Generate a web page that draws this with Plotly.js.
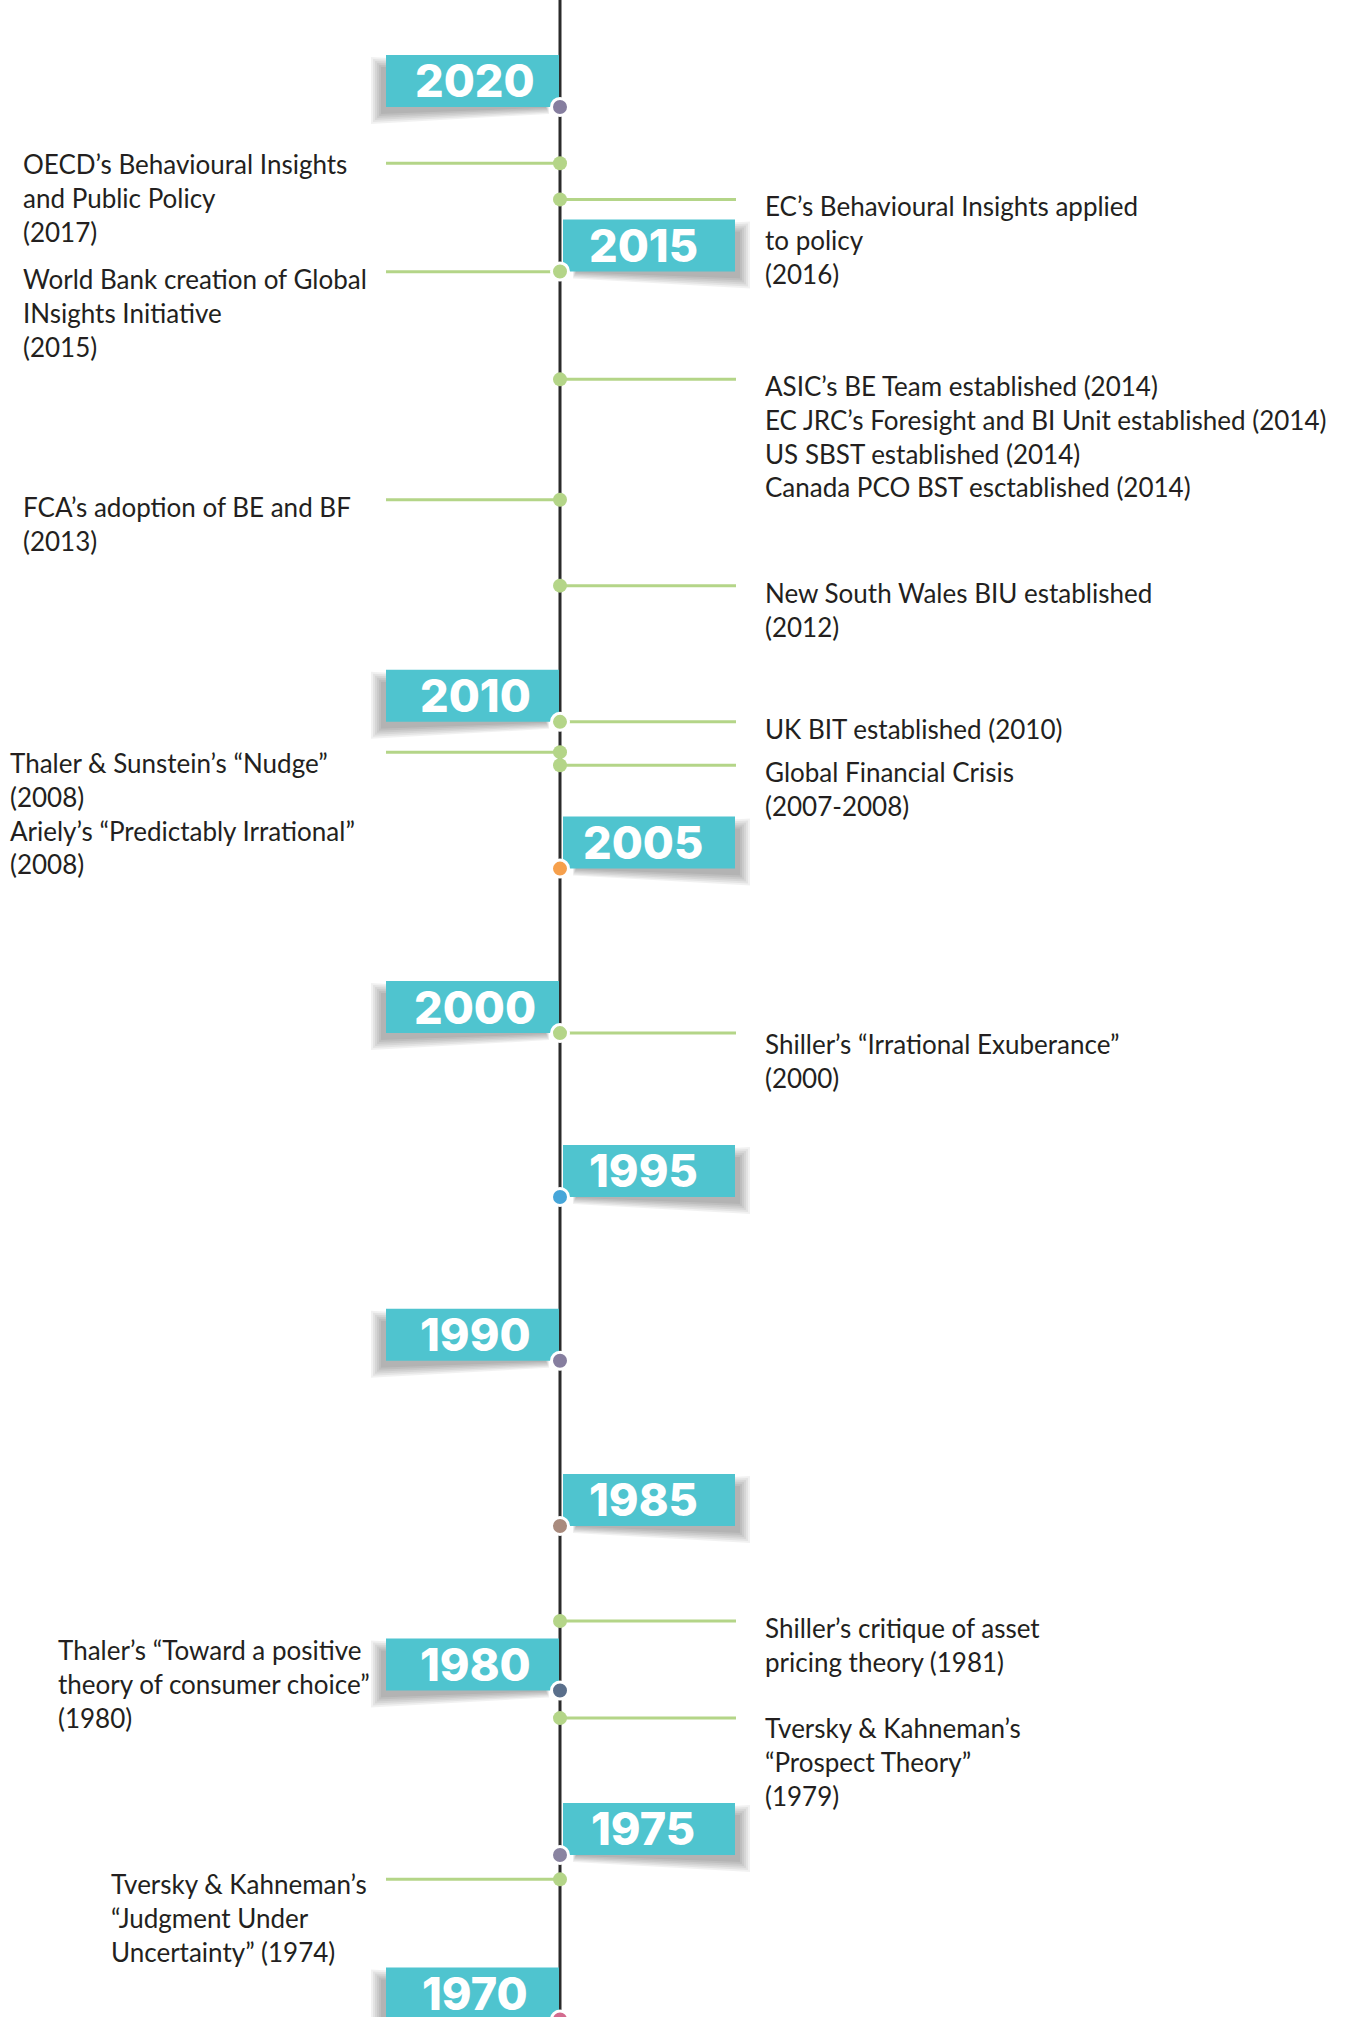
<!DOCTYPE html>
<html><head><meta charset="utf-8">
<script src="https://cdn.plot.ly/plotly-3.0.1.min.js"></script>
<style>html,body{margin:0;padding:0;background:#fff;} #chart{width:1351px;height:2017px;}</style>
</head><body><div id="chart"></div>
<script>
// ---------------- DATA ----------------
// Year markers on the timeline and their place on the drawn timeline scale
// (timeline units: one 5-year step = 5 units from 1970 up to 2005; the top of the
// original timeline is stretched, so 2010/2015/2020 sit where the picture puts them)
const markerYears = ['2020', '2015', '2010', '2005', '2000', '1995', '1990', '1985', '1980', '1975', '1970'];
const markerPos   = [58.13, 53.13, 39.44, 34.98, 29.98, 25.00, 20.02, 15.00, 10.00, 5.00, 0.00];
const markerSide  = ['left', 'right', 'left', 'right', 'left', 'right', 'left', 'right', 'left', 'right', 'left'];

// Events
const eventText = [
  'OECD’s Behavioural Insights<br>and Public Policy<br>(2017)',
  'EC’s Behavioural Insights applied<br>to policy<br>(2016)',
  'World Bank creation of Global<br>INsights Initiative<br>(2015)',
  'ASIC’s BE Team established (2014)<br>EC JRC’s Foresight and BI Unit established (2014)<br>US SBST established (2014)<br>Canada PCO BST esctablished (2014)',
  'FCA’s adoption of BE and BF<br>(2013)',
  'New South Wales BIU established<br>(2012)',
  'UK BIT established (2010)',
  'Thaler &amp; Sunstein’s “Nudge”<br>(2008)<br>Ariely’s “Predictably Irrational”<br>(2008)',
  'Global Financial Crisis<br>(2007-2008)',
  'Shiller’s “Irrational Exuberance”<br>(2000)',
  'Shiller’s critique of asset<br>pricing theory (1981)',
  'Thaler’s “Toward a positive<br>theory of consumer choice”<br>(1980)',
  'Tversky &amp; Kahneman’s<br>“Prospect Theory”<br>(1979)',
  'Tversky &amp; Kahneman’s<br>“Judgment Under<br>Uncertainty” (1974)'
];
const eventPos    = [56.42, 55.32, 53.12, 49.85, 46.19, 43.58, 39.44, 38.52, 38.12, 29.98, 12.11, 11.43, 9.16, 4.26];
const eventSide   = ['left', 'right', 'left', 'right', 'left', 'right', 'right', 'left', 'right', 'right', 'right', 'left', 'right', 'left'];
const eventLinked = [true, true, true, true, true, true, true, true, true, true, true, false, true, true];

// ---------------- STYLE / LAYOUT ----------------
const W = 1351, H = 2017;
const Y_RANGE = [0.076, 61.38];
const PX_PER_UNIT = H / (Y_RANGE[1] - Y_RANGE[0]);
const AXIS_X = 560;
const TEAL = '#4fc4cf';
const GREEN = '#b4d588';
const TEXT = '#231f20';
const MARKER_DOT_COLORS = ['#867e9f', GREEN, GREEN, '#f6a04c', GREEN, '#46a6d9', '#867e9f', '#a98b7e', '#5a6f8b', '#8a84a1', '#d36b8e'];
const LEFT_BOX = [386, 559], RIGHT_BOX = [563, 735];
const BOX_H = 52;
const LEFT_LINE = [386, AXIS_X], RIGHT_LINE = [AXIS_X, 736];
const LEFT_LABEL_X = [21, 21, 21, 8, 56, 109];   // left edges of the left-hand text blocks, in order
const RIGHT_LABEL_X = 763;
// fine vertical nudges of individual text blocks (px, up = positive)
const LABEL_YSHIFT = [17, 11, 11, 11, 11, 11, 11, 7, 11, 7, 11, 11, 8.5, 13.5];

const shapes = [];
const annotations = [];

function polyPath(pts) {
  return 'M ' + pts.map(p => p[0] + ',' + p[1]).join(' L ') + ' Z';
}

// shadows (soft, layered)
markerPos.forEach((p, i) => {
  const left = markerSide[i] === 'left';
  for (let d = 0; d <= 10; d += 2) {
    const pts = left
      ? [[381 - d, 40 + d], [381 - d, -7 - d], [546 + d * 0.3, -1 - d * 0.6], [546 + d * 0.3, 40]]
      : [[576 - d * 0.3, -1 - d * 0.6], [740 + d, -7 - d], [740 + d, 40 + d], [576 - d * 0.3, 40]];
    shapes.push({
      type: 'path', xref: 'x', yref: 'y', ysizemode: 'pixel', yanchor: p,
      path: polyPath(pts), fillcolor: 'rgba(0,0,0,0.055)', line: {width: 0}, layer: 'below'
    });
  }
});

// year boxes
markerPos.forEach((p, i) => {
  const b = markerSide[i] === 'left' ? LEFT_BOX : RIGHT_BOX;
  shapes.push({
    type: 'rect', xref: 'x', yref: 'y', ysizemode: 'pixel', yanchor: p,
    x0: b[0], x1: b[1], y0: 0, y1: BOX_H,
    fillcolor: TEAL, line: {width: 0}, layer: 'below'
  });
  annotations.push({
    x: markerSide[i] === 'left' ? 475 : 643, y: p + (BOX_H / 2) / PX_PER_UNIT, xref: 'x', yref: 'y',
    xanchor: 'center', yanchor: 'middle', showarrow: false,
    text: markerYears[i],
    font: {family: 'Inter, Lato, sans-serif', size: 45, color: '#ffffff', weight: 800}
  });
});

// connectors
eventPos.forEach((p, i) => {
  if (!eventLinked[i]) return;
  const l = eventSide[i] === 'left' ? LEFT_LINE : RIGHT_LINE;
  shapes.push({
    type: 'line', xref: 'x', yref: 'y', x0: l[0], x1: l[1], y0: p, y1: p,
    line: {color: GREEN, width: 3}, layer: 'below'
  });
});

// timeline
shapes.push({
  type: 'line', xref: 'x', yref: 'paper', x0: AXIS_X, x1: AXIS_X, y0: 0, y1: 1,
  line: {color: '#2b2b2b', width: 3}, layer: 'below'
});

// event labels
let li = 0;
eventPos.forEach((p, i) => {
  const left = eventSide[i] === 'left';
  annotations.push({
    x: left ? LEFT_LABEL_X[li++] : RIGHT_LABEL_X, y: p, xref: 'x', yref: 'y',
    xanchor: 'left', yanchor: 'top', yshift: LABEL_YSHIFT[i], align: 'left', showarrow: false,
    text: eventText[i],
    font: {family: 'Lato, "Open Sans", sans-serif', size: 26, color: TEXT}
  });
});

const linkedPos = eventPos.filter((p, i) => eventLinked[i]);
const traces = [
  {
    type: 'scatter', mode: 'markers', hoverinfo: 'skip',
    x: linkedPos.map(() => AXIS_X), y: linkedPos,
    marker: {size: 14, color: GREEN, line: {width: 0}}
  },
  {
    type: 'scatter', mode: 'markers', hoverinfo: 'skip',
    x: markerPos.map(() => AXIS_X), y: markerPos,
    marker: {size: 17, color: MARKER_DOT_COLORS, line: {width: 3, color: '#ffffff'}}
  }
];

const layout = {
  width: W, height: H,
  margin: {l: 0, r: 0, t: 0, b: 0, pad: 0},
  paper_bgcolor: '#ffffff', plot_bgcolor: '#ffffff',
  showlegend: false,
  xaxis: {range: [0, W], visible: false, fixedrange: true},
  yaxis: {range: Y_RANGE, visible: false, fixedrange: true},
  shapes: shapes, annotations: annotations
};

Plotly.newPlot('chart', traces, layout, {displayModeBar: false, staticPlot: true});
</script>
</body></html>
